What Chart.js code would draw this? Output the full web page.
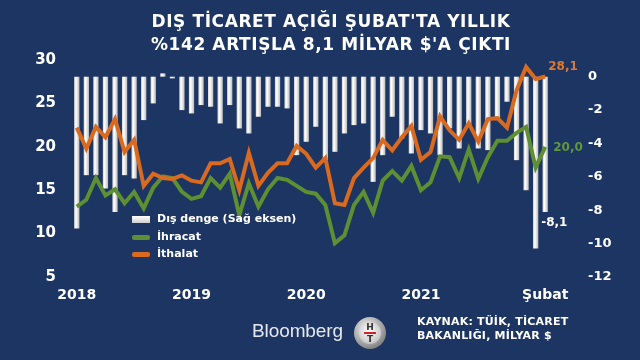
<!DOCTYPE html>
<html>
<head>
<meta charset="utf-8">
<script src="https://cdn.jsdelivr.net/npm/chart.js@4.4.1/dist/chart.umd.min.js"></script>
<style>
  html, body { margin: 0; padding: 0; background: #1c3563; }
  #wrap { position: relative; width: 640px; height: 360px; overflow: hidden; background: #1c3563; }
  #chart { position: absolute; left: 0; top: 0; }
  .txt { position: absolute; color: #fff; font-family: "DejaVu Sans", Verdana, sans-serif; font-weight: bold; white-space: nowrap; }
  #title { left: 111px; width: 440px; top: 10px; text-align: center; font-size: 17px; line-height: 23px; letter-spacing: 0.6px; }
  .leg { font-size: 11px; left: 157px; line-height: 14px; }
  .sym { position: absolute; left: 132px; width: 18px; }
  #source { left: 417px; top: 315px; font-size: 11px; line-height: 14px; letter-spacing: 0.2px; }
  #bbg { position: absolute; left: 252px; top: 320px; font-family: "Liberation Sans", Arial, sans-serif; font-size: 19px; color: #e6e8ec; letter-spacing: -0.1px; }
  #ht { position: absolute; left: 354px; top: 317px; width: 32px; height: 32px; border-radius: 50%;
        background: radial-gradient(circle at 40% 35%, #f4f4f4, #9a9a9a 60%, #555 100%); }
  #ht .in { position: absolute; left: 5px; top: 5px; width: 22px; height: 22px; border-radius: 50%;
        background: radial-gradient(circle at 45% 40%, #ffffff, #c8c8c8 70%, #8a8a8a); }
  #ht .l { position: absolute; width: 22px; text-align: center; font-family: "DejaVu Sans", sans-serif; font-weight: bold; font-size: 9px; color: #333; line-height: 9px; }
  #ht .bar { position: absolute; left: 5px; top: 10px; width: 12px; height: 2px; background: #d2232a; }
</style>
</head>
<body>
<div id="wrap">
  <canvas id="chart" width="640" height="360"></canvas>
  <div id="title" class="txt">DIŞ TİCARET AÇIĞI ŞUBAT'TA YILLIK<br>%142 ARTIŞLA 8,1 MİLYAR $'A ÇIKTI</div>

  <div class="sym" style="top:216px;height:7px;background:linear-gradient(#ffffff,#cfcfcf);"></div>
  <div class="txt leg" style="top:212px;">Dış denge (Sağ eksen)</div>
  <div class="sym" style="top:235px;height:5px;border-radius:2px;background:#5e8f32;"></div>
  <div class="txt leg" style="top:230px;">İhracat</div>
  <div class="sym" style="top:252px;height:5px;border-radius:2px;background:#d96a1f;"></div>
  <div class="txt leg" style="top:247px;">İthalat</div>

  <div id="bbg">Bloomberg</div>
  <div id="ht"><div class="in"><div class="l" style="top:1px;">H</div><div class="bar"></div><div class="l" style="top:13px;">T</div></div></div>
  <div id="source" class="txt">KAYNAK: TÜİK, TİCARET<br>BAKANLIĞI, MİLYAR $</div>
</div>

<script>
// ------------------- Data -------------------
// monthly, Jan 2018 .. Feb 2022 (billion $)
const months = [];
for (let y = 2018; y <= 2022; y++) {
  for (let m = 1; m <= 12; m++) {
    if (y === 2022 && m > 2) break;
    months.push(y + "-" + String(m).padStart(2, "0"));
  }
}

const ihracat = [13.1, 13.9, 16.4, 14.4, 15.1, 13.5, 14.8, 12.9, 15.3, 16.6, 16.4, 14.8,
                 14.0, 14.3, 16.4, 15.3, 16.9, 12.1, 15.8, 13.1, 15.1, 16.4, 16.2, 15.5,
                 14.8, 14.6, 13.3, 8.9, 9.8, 13.3, 14.8, 12.4, 16.1, 17.2, 16.1, 17.8,
                 15.0, 15.9, 18.9, 18.8, 16.4, 19.7, 16.3, 18.8, 20.7, 20.7, 21.6, 22.3,
                 17.6, 20.0];

const ithalat = [22.2, 19.8, 22.3, 21.1, 23.2, 19.4, 20.8, 15.5, 16.9, 16.4, 16.3, 16.7,
                 16.1, 15.9, 18.1, 18.1, 18.6, 15.0, 19.3, 15.5, 17.0, 18.1, 18.1, 20.1,
                 19.2, 17.6, 18.7, 13.5, 13.3, 16.4, 17.6, 18.7, 20.8, 19.6, 21.1, 22.4,
                 18.5, 19.4, 23.5, 21.9, 20.8, 22.7, 20.6, 23.2, 23.3, 22.2, 26.5, 29.2,
                 27.8, 28.1];

const disDenge = [-9.1, -5.9, -5.9, -6.7, -8.1, -5.9, -6.1, -2.6, -1.6, 0.2, -0.1, -2.0,
                  -2.2, -1.7, -1.8, -2.8, -1.7, -3.1, -3.4, -2.4, -1.8, -1.8, -1.9, -4.7,
                  -3.9, -3.0, -5.0, -4.5, -3.4, -2.9, -2.8, -6.3, -4.7, -2.4, -3.7, -4.6,
                  -3.2, -3.4, -4.7, -3.1, -4.3, -3.0, -4.3, -4.4, -2.6, -1.5, -5.0, -6.8,
                  -10.3, -8.1];

const xTickIndex = [0, 12, 24, 36, 49];
const xTickText = ["2018", "2019", "2020", "2021", "Şubat"];

const lastLabels = ["28,1", "20,0", "-8,1"];

// ------------------- Colors -------------------
const green = "#5e8f32";
const orange = "#d96a1f";

function barFill(ctx) {
  const el = ctx.element;
  if (!el || el.x == null || isNaN(el.x) || !el.width) return "#e8e8e8";
  const c = ctx.chart.ctx;
  const g = c.createLinearGradient(el.x - el.width / 2, 0, el.x + el.width / 2, 0);
  g.addColorStop(0, "#d2d2d2");
  g.addColorStop(0.35, "#ffffff");
  g.addColorStop(1, "#bcbcbc");
  return g;
}

// end value labels
const endLabels = {
  id: "endLabels",
  afterDatasetsDraw(chart) {
    const c = chart.ctx;
    c.save();
    c.font = "bold 12px 'DejaVu Sans'";
    c.textBaseline = "middle";
    c.textAlign = "left";
    const imp = chart.getDatasetMeta(2).data[ithalat.length - 1];
    const exp = chart.getDatasetMeta(1).data[ihracat.length - 1];
    const bal = chart.getDatasetMeta(0).data[disDenge.length - 1];
    c.fillStyle = "#e0782e";
    c.fillText(lastLabels[0], imp.x + 3, imp.y - 10);
    c.fillStyle = "#5f9a38";
    c.fillText(lastLabels[1], exp.x + 8, exp.y + 1);
    c.fillStyle = "#ffffff";
    c.fillText(lastLabels[2], bal.x - 4, bal.y + 11);
    c.restore();
  }
};

const chart = new Chart(document.getElementById("chart"), {
  data: {
    labels: months,
    datasets: [
      { type: "bar", label: "Dış denge (Sağ eksen)", data: disDenge, yAxisID: "yR",
        backgroundColor: barFill, barPercentage: 0.55, categoryPercentage: 1, order: 3 },
      { type: "line", label: "İhracat", data: ihracat, yAxisID: "yL",
        borderColor: green, borderWidth: 4, pointRadius: 0, tension: 0, order: 2 },
      { type: "line", label: "İthalat", data: ithalat, yAxisID: "yL",
        borderColor: orange, borderWidth: 4, pointRadius: 0, tension: 0, order: 1 }
    ]
  },
  options: {
    responsive: false,
    animation: false,
    layout: { padding: { top: 60, left: 0, right: 0, bottom: 0 } },
    plugins: { legend: { display: false }, tooltip: { enabled: false } },
    scales: {
      x: {
        grid: { display: false, drawTicks: false },
        border: { display: false },
        ticks: {
          autoSkip: false, maxRotation: 0, padding: 10, color: "#fff",
          font: { family: "DejaVu Sans", weight: "bold", size: 14 },
          callback: (v, i) => { const k = xTickIndex.indexOf(i); return k > -1 ? xTickText[k] : ""; }
        },
        afterFit: s => { s.height = 83; }
      },
      yL: {
        position: "left", min: 5, max: 30,
        grid: { display: false, drawTicks: false },
        border: { display: false },
        ticks: { stepSize: 5, padding: 16, color: "#fff",
          font: { family: "DejaVu Sans", weight: "bold", size: 15 } },
        afterFit: s => { s.width = 72; }
      },
      yR: {
        position: "right", min: -12, max: 1,
        grid: { display: false, drawTicks: false },
        border: { display: false },
        ticks: { stepSize: 2, padding: 38, color: "#fff",
          font: { family: "DejaVu Sans", weight: "bold", size: 13 } },
        afterBuildTicks: s => { s.ticks = s.ticks.filter(t => t.value <= 0); },
        afterFit: s => { s.width = 90; }
      }
    }
  },
  plugins: [endLabels]
});

// second pass so the bar gradients know their positions
chart.update();
</script>
</body>
</html>
